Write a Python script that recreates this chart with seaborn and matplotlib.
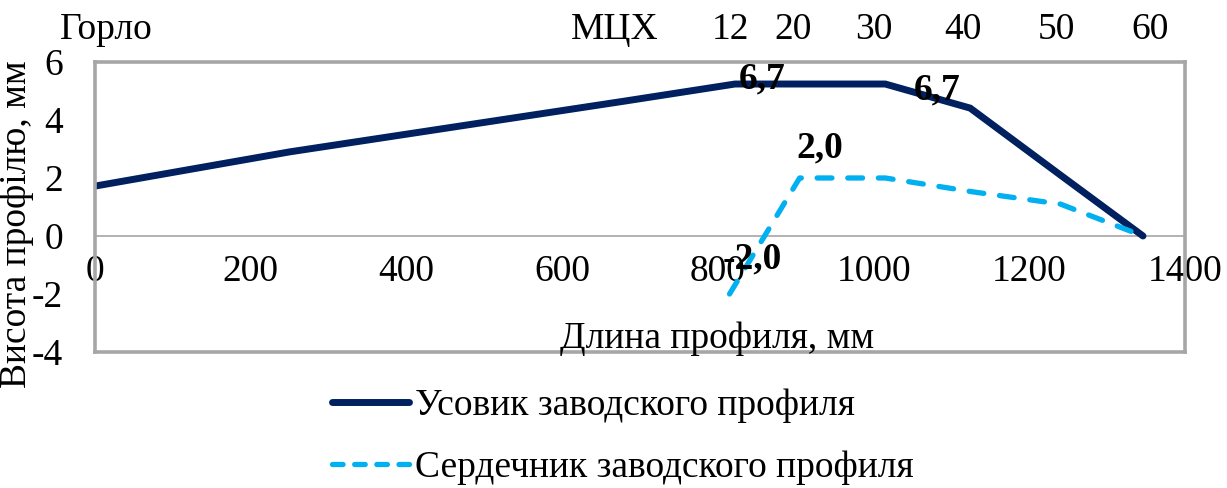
import matplotlib
matplotlib.use("Agg")
import matplotlib.pyplot as plt
import matplotlib.transforms as mtransforms
from matplotlib.lines import Line2D
import seaborn as sns
import pandas as pd

# Profile geometry (length along profile, mm -> height, mm)
whisker_x = [0, 250, 680, 822, 1015, 1124, 1240, 1346]
whisker_y = [1.72, 2.9, 4.65, 5.24, 5.24, 4.41, 2.1, 0.0]

core_x = [815, 905, 1015, 1128, 1240, 1346]
core_y = [-2.0, 2.0, 2.0, 1.52, 1.1, 0.0]

series_names = ["Усовик заводского профиля", "Сердечник заводского профиля"]

# Section marks along the top edge
section_labels = ["Горло", "МЦХ", "12", "20", "30", "40", "50", "60"]
section_x = [15, 668, 816, 897, 1000, 1115, 1235, 1355]

# Value callouts
callout_text = ["6,7", "6,7", "2,0", "-2,0"]
callout_x = [857, 1081, 931, 844]
callout_y = [5.4, 5.05, 3.03, -0.8]

x_ticks = [0, 200, 400, 600, 800, 1000, 1200, 1400]
y_ticks = [-4, -2, 0, 2, 4, 6]

sns.set_theme(style="white")
plt.rcParams["font.family"] = ["Liberation Serif", "DejaVu Serif"]
plt.rcParams["axes.unicode_minus"] = False
for key in ("text.color", "axes.labelcolor", "xtick.color", "ytick.color"):
    plt.rcParams[key] = "black"

FS = 27
navy = "#002060"
cyan = "#00B0F0"
frame = "#A6A6A6"
LW_SOLID = 5.0
LW_DASH = 3.8

fig = plt.figure(figsize=(12.27, 4.88), dpi=100)
ax = fig.add_axes([0.0774, 0.2787, 0.8884, 0.5943])

df = pd.concat([
    pd.DataFrame({"x": whisker_x, "y": whisker_y, "s": series_names[0]}),
    pd.DataFrame({"x": core_x, "y": core_y, "s": series_names[1]}),
])

sns.lineplot(data=df[df.s == series_names[0]], x="x", y="y", ax=ax,
             color=navy, linewidth=LW_SOLID, solid_capstyle="round",
             solid_joinstyle="miter", legend=False, sort=False)
sns.lineplot(data=df[df.s == series_names[1]], x="x", y="y", ax=ax,
             color=cyan, linewidth=LW_DASH, dash_capstyle="round",
             legend=False, sort=False)
ax.lines[1].set_dashes([2.8, 3.0])

ax.set_xlim(0, 1400)
ax.set_ylim(-4, 6)

# Frame
for sp in ax.spines.values():
    sp.set_visible(True)
    sp.set_color(frame)
    sp.set_linewidth(2.6)

# Y axis
ax.set_yticks(y_ticks)
ax.set_yticklabels([str(v) for v in y_ticks], fontsize=FS)
ax.tick_params(axis="y", length=0, pad=23)
ax.set_ylabel("Висота профілю, мм", fontsize=FS)
ax.yaxis.set_label_coords(-0.056, 0.44)

# X axis crossing at y = 0
ax.set_xticks([])
ax.set_xlabel("")
zero_frac = (0 - (-4)) / (6 - (-4))
sec = ax.secondary_xaxis(zero_frac)
sec.set_xticks(x_ticks)
sec.set_xticklabels([str(v) for v in x_ticks], fontsize=FS)
sec.tick_params(axis="x", length=0, pad=13)
sec.spines["bottom"].set_color(frame)
sec.spines["bottom"].set_linewidth(1.2)
sec.spines["top"].set_visible(False)
ax.text(0.571, 0.015, "Длина профиля, мм", transform=ax.transAxes,
        ha="center", va="baseline", fontsize=FS)

# Section marks on top
blend = mtransforms.blended_transform_factory(ax.transData, fig.transFigure)
for lab, xv in zip(section_labels, section_x):
    ax.text(xv, 0.94, lab, transform=blend, ha="center", va="center",
            fontsize=FS, clip_on=False)

# Callouts
for t, xv, yv in zip(callout_text, callout_x, callout_y):
    ax.text(xv, yv, t, ha="center", va="center", fontsize=FS,
            fontweight="bold")

# Legend below the plot
handles = [
    Line2D([], [], color=navy, linewidth=LW_SOLID, solid_capstyle="round"),
    Line2D([], [], color=cyan, linewidth=LW_DASH, linestyle=(0, (2.0, 2.2)),
           dash_capstyle="round"),
]
fig.legend(handles, series_names, loc="upper left",
           bbox_to_anchor=(0.2555, 0.242), frameon=False, fontsize=FS,
           handlelength=2.05, handletextpad=0.15, labelspacing=0.72,
           borderpad=0)

fig.savefig("out.png", dpi=100)
